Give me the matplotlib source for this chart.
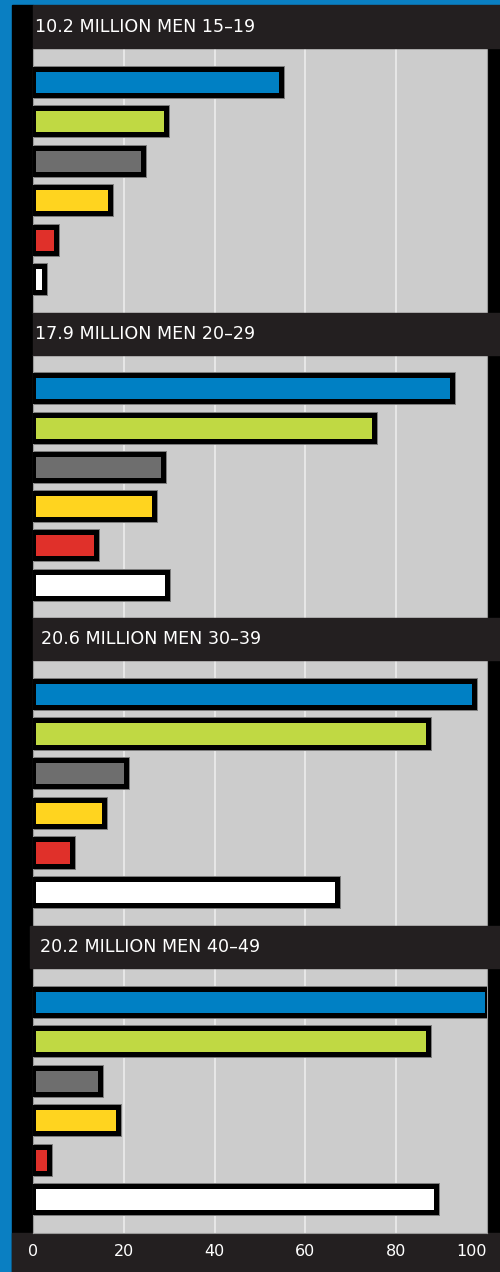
import matplotlib
matplotlib.use("Agg")
import matplotlib.pyplot as plt
from matplotlib.patches import Rectangle

# ---- data ----
panel_titles = ["10.2 MILLION MEN 15\u201319", "17.9 MILLION MEN 20\u201329",
                "20.6 MILLION MEN 30\u201339", "20.2 MILLION MEN 40\u201349"]
vals_15_19 = [54.7, 29.3, 24.2, 17.0, 5.0, 2.5]
vals_20_29 = [92.3, 75.0, 28.6, 26.7, 13.9, 29.5]
vals_30_39 = [97.1, 87.0, 20.5, 15.6, 8.6, 67.0]
vals_40_49 = [100.0, 87.0, 14.8, 18.7, 3.5, 88.7]
panel_values = [vals_15_19, vals_20_29, vals_30_39, vals_40_49]
bar_colors = ["#0080c4", "#c0d943", "#6e6e6e", "#ffd41f", "#e0302a", "#ffffff"]
x_ticks = [0, 20, 40, 60, 80, 100]
x_ticklabels = ["0", "20", "40", "60", "80", "100"]

# ---- layout ----
W, H = 500, 1272
fig = plt.figure(figsize=(W / 100, H / 100), dpi=100)
fig.patch.set_facecolor("#0a7fc2")

def fx(px):
    return px / W

def fy(py):
    return 1 - py / H

dark = "#231f20"
# left black strip
fig.add_artist(Rectangle((fx(12), fy(1272)), fx(21), (1272 - 5) / H,
                         transform=fig.transFigure, color="black", zorder=0))
# right black strip
fig.add_artist(Rectangle((fx(486.5), fy(1233)), fx(13.5), (1233 - 48) / H,
                         transform=fig.transFigure, color="black", zorder=0))
# bottom dark strip
fig.add_artist(Rectangle((fx(12), fy(1272)), fx(488), 39 / H,
                         transform=fig.transFigure, color=dark, zorder=0))

gray_ranges = [(48, 313), (355, 618), (660, 926), (968, 1233)]
header_ranges = [(5, 48), (313, 355), (618, 660), (926, 968)]
header_left = [33, 33, 33, 30]
text_left = [35, 35, 41, 40]

axes = []
for i, ((y1, y2), vals) in enumerate(zip(gray_ranges, panel_values)):
    ax = fig.add_axes([fx(33), fy(y2), fx(454), (y2 - y1) / H])
    ax.set_facecolor("#cccccc")
    ax.set_xlim(0, 100)
    ax.set_ylim(5.85, -0.85)
    for xt in x_ticks[1:-1]:
        ax.axvline(xt, color="#ececec", lw=1.2, zorder=1)
    pos = list(range(len(vals)))
    ax.barh(pos, vals, height=0.66, color=bar_colors, edgecolor="#7a7a7a",
            linewidth=5.0, zorder=2)
    ax.barh(pos, vals, height=0.66, color=bar_colors, edgecolor="black",
            linewidth=3.6, zorder=3)
    for s in ax.spines.values():
        s.set_color("#9a9a9a")
        s.set_linewidth(0.8)
    ax.set_yticks([])
    ax.set_xticks([])
    axes.append(ax)

    hy1, hy2 = header_ranges[i]
    fig.add_artist(Rectangle((fx(header_left[i]), fy(hy2)), fx(500 - header_left[i]),
                             (hy2 - hy1) / H, transform=fig.transFigure,
                             color=dark, zorder=5))
    fig.text(fx(text_left[i]), fy((hy1 + hy2) / 2), panel_titles[i], color="white",
             fontsize=12.6, fontfamily="DejaVu Sans", ha="left", va="center",
             zorder=6)

# tick labels in bottom strip
for xt, lab in zip(x_ticks, x_ticklabels):
    xpix = 33 + xt / 100 * 454
    ha = "right" if xt == 100 else "center"
    if xt == 100:
        xpix = 487
    fig.text(fx(xpix), fy(1251), lab, color="white", fontsize=11.5,
             fontfamily="DejaVu Sans", ha=ha, va="center", zorder=6)

fig.savefig("out.png", dpi=100, facecolor=fig.get_facecolor())
